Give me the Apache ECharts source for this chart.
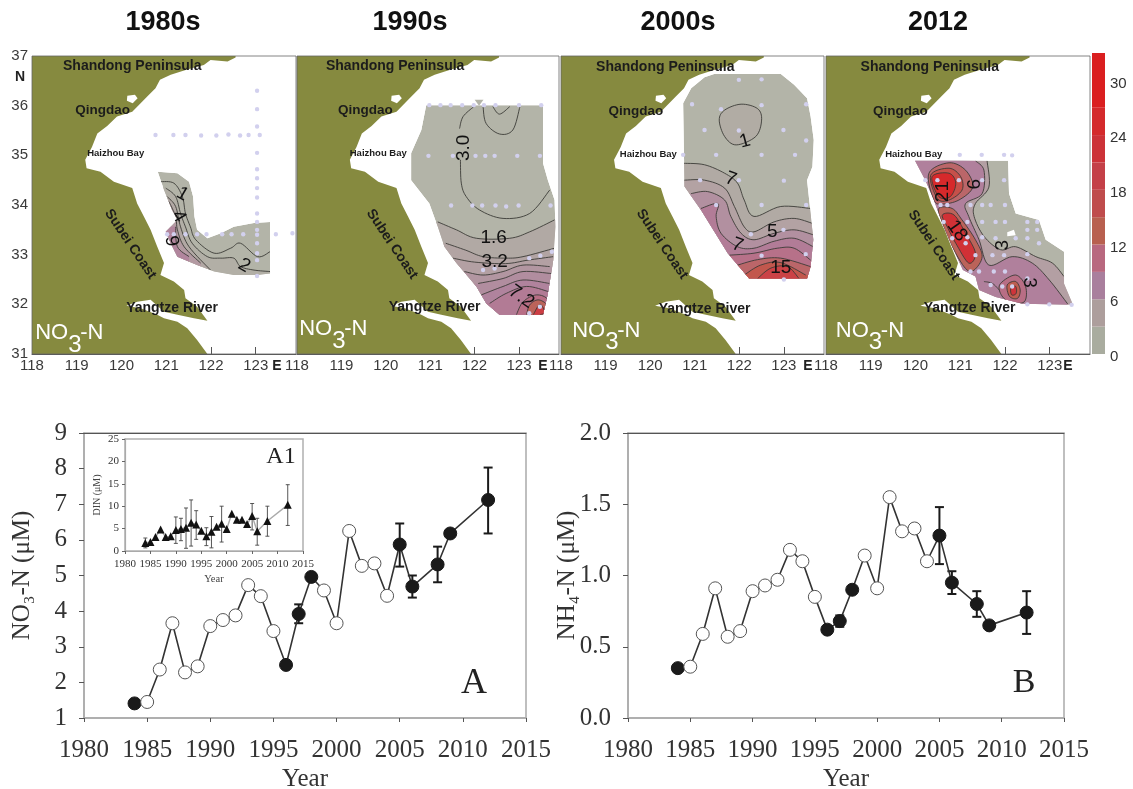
<!DOCTYPE html>
<html><head><meta charset="utf-8">
<style>html,body{margin:0;padding:0;background:#fff}#c{width:1133px;height:789px}</style>
<script src="https://cdn.jsdelivr.net/npm/echarts@6/dist/echarts.min.js"></script>
</head><body><div id="c"></div>
<script>
// ---------- time series ----------
const years = [1984,1985,1986,1987,1988,1989,1990,1991,1992,1993,1994,1995,1996,1997,1998,1999,2000,2001,2002,2003,2004,2005,2006,2008,2009,2012];
const filledYears = [1984,1996,1997,1998,2005,2006,2008,2009,2012];
const no3 = [1.41,1.45,2.36,3.66,2.28,2.45,3.58,3.75,3.88,4.73,4.42,3.44,2.49,3.92,4.96,4.58,3.66,6.25,5.27,5.34,4.43,5.87,4.69,5.31,6.18,7.12];
const no3Err = [[1997,3.66,4.19],[2005,5.25,6.46],[2006,4.38,5.0],[2008,4.81,5.81],[2012,6.18,8.03]];
const nh4 = [0.35,0.36,0.59,0.91,0.57,0.61,0.89,0.93,0.97,1.18,1.10,0.85,0.62,0.68,0.90,1.14,0.91,1.55,1.31,1.33,1.10,1.28,0.95,0.80,0.65,0.74];
const nh4Err = [[1997,0.64,0.72],[2005,1.08,1.48],[2006,0.87,1.03],[2008,0.71,0.89],[2012,0.59,0.89]];
const dinYears = [1984,1985,1986,1987,1988,1989,1990,1991,1992,1993,1994,1995,1996,1997,1998,1999,2000,2001,2002,2003,2004,2005,2006,2008,2012];
const din = [1.8,2.0,3.1,4.8,3.1,3.3,4.7,4.9,5.2,6.3,5.9,4.5,3.3,4.3,5.4,6.1,4.9,8.3,7.0,7.0,6.0,7.8,4.4,6.7,10.3];
const dinErr = [[1984,0.7,2.9],[1990,1.7,7.6],[1991,2.3,7.3],[1992,0.6,9.6],[1993,1.1,11.4],[1994,2.6,9.0],[1996,1.2,5.2],[1997,0.7,7.7],[1999,2.0,10.0],[2005,4.7,10.6],[2006,1.3,7.3],[2008,3.3,10.0],[2012,5.7,14.8]];

// ---------- colour bar ----------
const barEdges = [0,3,6,9,12,15,18,21,24,27,33];
const barColors = ['#a9ac9f','#ad9e9c','#a97f9d','#b8687f','#b8604f','#bf4c4c','#c44048','#cc3238','#d42a2c','#da1f20'];
const mapStops = [1,2,4.5,7.5,10.5,13.5,16.5,19.5,22.5,25.5,30];
const mapColors = ['#b3b4a8','#b1aca4','#b39fa3','#b0809c','#ba6a80','#bb6152','#c84c48','#cc4046','#d03238','#d62a2c','#da1f20'];

// ---------- geography (lon, lat) ----------
const coast = [[122.55,37],[122.55,36.97],[122.37,36.89],[121.99,36.92],[121.84,36.82],[121.47,36.73],[121.10,36.62],[120.86,36.52],[120.76,36.35],[120.57,36.18],[120.46,36.08],[120.24,35.88],[119.90,35.78],[119.68,35.59],[119.46,35.44],[119.34,35.17],[119.19,34.91],[119.22,34.74],[119.53,34.67],[119.83,34.47],[120.24,34.34],[120.35,34.03],[120.50,33.77],[120.65,33.50],[120.80,33.16],[120.95,32.83],[120.87,32.59],[121.17,32.46],[121.40,32.29],[121.43,32.12],[121.69,31.95],[121.92,31.67],[121.62,31.72],[121.25,31.79],[120.95,31.85],[120.65,32.09],[120.35,32.05],[120.11,31.97],[120.43,31.92],[120.80,31.79],[120.95,31.72],[121.25,31.65],[121.47,31.52],[121.69,31.28],[121.92,31],[118,31],[118,37]];
const qingdaoBay = [[120.13,36.2],[120.3,36.22],[120.36,36.15],[120.25,36.05],[120.12,36.1]];

// 1980s
const dom80 = [[120.81,34.67],[121.25,34.64],[121.51,34.47],[121.60,34.17],[121.63,33.77],[121.69,33.50],[121.92,33.33],[122.22,33.43],[122.51,33.56],[122.96,33.64],[123.32,33.66],[123.32,32.62],[123.04,32.59],[122.51,32.59],[122.07,32.66],[121.69,32.79],[121.25,32.96],[121.10,33.23],[120.99,33.46],[121.25,33.70],[121.13,33.90],[120.95,34.30]];
const c80a = [[120.86,34.47],[121.17,34.44],[121.36,34.17],[121.43,33.83],[121.54,33.56],[121.66,33.30],[122.07,33.03],[122.44,33.13],[122.66,33.23],[123.04,32.96],[123.32,33.06]];
const c80b = [[120.99,34.34],[121.21,34.17],[121.32,33.83],[121.43,33.56],[121.58,33.23],[121.92,32.96],[122.22,32.93],[122.51,32.93],[122.66,32.76],[122.96,32.69],[123.32,32.66]];
const c80c = [[121.02,34.17],[121.21,33.97],[121.32,33.56],[121.51,33.16],[121.99,32.69]];
const c80d = [[121.06,34.07],[121.21,33.77],[121.25,33.50],[121.40,33.16],[121.77,32.83]];
const c80e = [[121.21,33.56],[121.25,33.16],[121.51,32.96]];
const st80 = [[120.76,35.41],[121.16,35.41],[121.43,35.41],[121.78,35.40],[122.12,35.40],[122.39,35.42],[122.65,35.40],[122.84,35.41],[123.09,35.41],[123.03,36.30],[123.03,35.93],[123.03,35.58],[123.03,35.05],[123.03,34.72],[123.03,34.54],[123.03,34.34],[123.03,34.15],[123.03,33.83],[123.03,33.66],[123.03,33.50],[123.03,33.40],[123.03,33.23],[123.03,33.03],[123.03,32.89],[123.03,32.57],[121.02,33.41],[121.17,33.41],[121.43,33.41],[121.69,33.41],[121.90,33.41],[122.25,33.41],[122.46,33.41],[122.72,33.41],[123.45,33.41],[123.82,33.43]];

// 1990s
const dom90 = [[120.91,36.01],[123.54,36.01],[123.54,34.84],[123.65,34.50],[123.80,34.10],[123.82,33.56],[123.77,32.89],[123.65,32.22],[123.54,31.79],[122.56,31.79],[122.26,32.02],[122.04,32.36],[121.59,32.83],[121.32,33.16],[121.17,33.56],[120.98,34.03],[120.57,34.50],[120.57,35.04],[120.80,35.51]];
const c90a1 = [[121.98,35.98],[121.74,35.78],[121.66,35.54]];
const c90a2 = [[121.68,34.91],[121.70,34.44],[121.81,34.17],[122.11,33.90],[122.64,33.73],[123.24,33.83],[123.69,34.30]];
const c90b = [[122.19,35.98],[122.26,35.64],[122.56,35.43],[122.86,35.51],[123.02,35.98]];
const c90c = [[122.41,35.98],[122.56,35.83],[122.79,35.98]];
const c90d = [[121.17,33.66],[121.59,33.50],[122.04,33.33],[122.79,33.33],[123.24,33.46],[123.80,33.70]];
const c90e = [[121.35,33.23],[121.80,33.09],[122.19,32.96],[122.71,32.93],[123.09,32.96],[123.80,33.13]];
const c90f = [[121.51,32.93],[122.0,32.85],[122.7,32.82],[123.2,32.89],[123.77,32.96]];
const c90g = [[121.77,32.66],[122.19,32.59],[122.64,32.66],[123.09,32.79],[123.69,32.76]];
const c90h = [[122.08,32.42],[122.64,32.52],[123.09,32.66],[123.73,32.62]];
const c90i = [[122.15,32.19],[122.64,32.36],[123.09,32.49],[123.69,32.42]];
const c90j = [[122.34,32.02],[122.71,32.22],[123.17,32.36],[123.65,32.26]];
const c90k = [[122.94,31.79],[123.09,32.05],[123.39,32.19],[123.65,32.09],[123.62,31.79]];
const c90l = [[123.17,31.79],[123.24,31.99],[123.43,32.09],[123.62,31.99],[123.58,31.79]];
const c90m = [[123.32,31.79],[123.47,32.0],[123.58,31.84],[123.47,31.79]];
const st90 = [[120.98,36.01],[121.23,36.01],[121.46,36.01],[121.72,36.01],[121.98,36.01],[122.21,36.01],[122.47,36.01],[123.0,36.01],[123.5,36.01],[120.96,34.99],[121.51,34.99],[122.02,34.99],[122.24,34.99],[122.45,34.99],[122.96,34.99],[123.47,34.99],[121.47,33.99],[121.95,33.99],[122.17,33.99],[122.47,33.99],[122.71,33.97],[122.99,33.99],[123.71,33.99],[123.23,32.93],[123.48,32.98],[123.74,33.06],[122.19,32.69],[122.45,32.72],[123.23,31.82],[123.47,31.95]];

// 2000s
const dom00 = [[121.22,36.57],[121.44,36.64],[122.93,36.64],[123.23,36.42],[123.52,36.15],[123.60,35.78],[123.67,35.31],[123.64,34.77],[123.52,34.50],[123.60,33.83],[123.66,33.30],[123.60,32.76],[123.52,32.52],[122.22,32.52],[121.74,33.03],[121.14,33.90],[120.77,34.37],[120.74,36.05],[120.92,36.35]];
const c00a = [[121.93,35.21],[121.67,35.38],[121.55,35.71],[121.67,35.91],[122.04,36.03],[122.41,35.94],[122.50,35.71],[122.37,35.38]];
const c00b = [[120.76,34.84],[121.22,34.81],[121.67,34.64],[121.96,34.44],[122.11,34.10],[122.33,33.77],[122.93,33.97],[123.60,33.93]];
const c00c = [[120.76,34.50],[121.22,34.50],[121.67,34.34],[121.89,33.97],[122.11,33.56],[122.33,33.46],[122.78,33.66],[123.23,33.73],[123.64,33.63]];
const c00d = [[120.92,34.23],[121.29,34.27],[121.67,34.10],[121.81,33.77],[122.04,33.43],[122.33,33.30],[122.78,33.43],[123.23,33.50],[123.66,33.40]];
const c00e = [[121.14,33.93],[121.52,34.03],[121.48,33.77],[121.59,33.43],[121.96,33.16],[122.33,33.13],[122.78,33.27],[123.23,33.33],[123.66,33.16]];
const c00f = [[121.78,32.99],[122.33,33.03],[122.85,33.13],[123.23,33.13],[123.60,32.89]];
const c00g = [[121.89,32.77],[122.41,32.90],[122.93,32.93],[123.60,32.76]];
const c00h = [[122.11,32.59],[122.48,32.79],[122.93,32.84],[123.49,32.59]];
const c00i = [[122.41,32.52],[122.71,32.73],[123.08,32.76],[123.34,32.52]];
const st00 = [[121.99,36.52],[122.50,36.53],[120.94,36.03],[121.59,35.93],[122.50,36.01],[123.50,36.03],[121.22,35.51],[121.99,35.50],[122.99,35.51],[123.50,35.30],[120.74,35.01],[121.48,35.01],[122.50,35.01],[123.25,35.01],[121.12,34.50],[121.99,34.50],[123.0,34.49],[121.48,34.0],[122.50,34.0],[123.50,34.0],[122.26,33.41],[122.99,33.50],[122.50,32.98],[123.49,33.01],[123.0,32.50]];

// 2012
const dom12 = [[119.99,34.89],[122.07,34.89],[122.09,34.23],[122.24,33.83],[122.76,33.70],[122.91,33.30],[123.32,33.06],[123.32,32.42],[123.52,31.99],[122.39,32.01],[121.79,32.15],[121.42,32.29],[121.34,32.56],[121.06,32.69],[120.82,33.16],[120.60,33.63],[120.41,34.10],[120.22,34.50]];
const hole12 = [[122.05,33.45],[122.2,33.5],[122.24,33.39],[122.05,33.37]];
const c12a = [[121.60,34.89],[121.64,34.36],[121.34,34.03],[121.31,33.77],[121.53,33.37],[121.90,33.10],[122.24,33.16],[122.69,32.96],[123.06,32.83],[123.32,32.56]];
const c12b = [[121.34,34.89],[121.53,34.70],[121.49,34.23],[121.12,34.03],[121.19,33.77],[121.42,33.30],[121.64,32.79],[122.16,32.96],[122.61,32.83],[122.99,32.49],[123.40,32.01]];
const c12c = [[120.30,34.64],[120.75,34.85],[121.12,34.70],[121.28,34.36],[120.97,34.10],[120.60,34.02],[120.41,34.10]];
const c12d = [[120.34,34.60],[120.75,34.74],[121.01,34.57],[121.04,34.30],[120.75,34.10],[120.49,34.13]];
const c12e = [[120.37,34.57],[120.75,34.64],[120.90,34.44],[120.78,34.17],[120.52,34.17]];
const c12f = [[120.52,33.93],[120.82,33.93],[121.04,33.70],[121.34,33.30],[121.49,32.96],[121.31,32.69],[121.12,32.72],[120.82,33.16],[120.60,33.63]];
const c12g = [[120.60,33.80],[120.86,33.80],[121.12,33.43],[121.34,33.03],[121.19,32.83],[120.90,33.23],[120.71,33.56]];
const c12h = [[121.90,32.42],[122.24,32.59],[122.46,32.36],[122.43,32.05],[122.09,32.05],[121.90,32.22]];
const c12i = [[122.05,32.39],[122.24,32.46],[122.34,32.29],[122.28,32.12],[122.10,32.16]];
const c12j = [[122.13,32.32],[122.24,32.36],[122.25,32.22],[122.15,32.19]];
const c12k = [[121.53,32.46],[121.72,32.42],[121.87,32.29]];
const st12 = [[120.99,35.01],[121.48,35.01],[121.98,35.01],[122.16,35.0],[120.22,34.5],[120.49,34.5],[120.97,34.5],[121.49,34.5],[121.98,34.5],[120.56,34.0],[120.71,34.0],[121.23,34.0],[121.49,34.0],[121.68,34.0],[122.0,34.0],[120.63,33.66],[121.16,33.66],[121.49,33.66],[121.79,33.66],[122.0,33.66],[122.50,33.66],[122.72,33.66],[120.82,33.33],[121.16,33.35],[121.49,33.35],[121.79,33.33],[122.24,33.33],[122.50,33.33],[122.72,33.50],[122.50,33.50],[121.12,33.23],[121.34,32.99],[121.72,32.99],[121.98,32.99],[122.50,33.01],[122.76,33.23],[121.23,32.66],[121.42,32.66],[121.75,32.66],[122.0,32.66],[122.50,32.52],[122.16,32.36],[122.50,32.0],[122.99,32.0],[123.49,31.99],[121.68,32.39],[121.94,32.36]];

const mapPanels = [
 {title:'1980s', base:1, domain:dom80, extras:[], holes:[],
  lines:[c80a,c80b,c80c,c80d,c80e],
  bands:[[1.6,c80b,[[123.6,32.4],[120.5,32.4],[120.5,34.5]]],[2.8,c80c,[[122.0,32.3],[120.5,32.3],[120.5,34.3]]],[5,c80d,[[121.8,32.4],[120.5,32.4],[120.5,34.2]]],[7,c80e,[[121.5,32.6],[120.6,32.9],[120.6,33.6]]]],
  stations:st80,
  labels:[['1',121.36,34.22,-30],['4',121.28,33.77,-60],['6',121.17,33.28,100],['2',122.74,32.78,-30]],
  names:[[120.24,36.80],[119.58,35.90],[119.87,35.03],[120.20,33.21],[121.13,31.92]], no3:[118.07,31.42]},
 {title:'1990s', base:1, domain:dom90, extras:[[[122.0,36.12],[122.2,36.12],[122.1,36.0]]],holes:[],
  lines:[c90a1,c90a2,c90b,c90c,c90d,c90e,c90f,c90g,c90h,c90i,c90j,c90k,c90l,c90m],
  bands:[[2.5,c90d,[[124.2,33.7],[124.2,31.5],[120.5,31.5],[120.5,33.66]]],[3.5,c90e,[[124.2,33.13],[124.2,31.5],[120.5,31.5],[120.5,33.23]]],[4.4,c90f,[[124.2,32.96],[124.2,31.5],[121,31.5],[121,32.93]]],[5.4,c90g,[[124.2,32.76],[124.2,31.5],[121.3,31.5],[121.3,32.66]]],[6.2,c90h,[[124.2,32.62],[124.2,31.5],[121.7,31.5],[121.7,32.42]]],[7.2,c90i,[[124.2,32.42],[124.2,31.5],[121.9,31.5],[121.9,32.19]]],[8.2,c90j,[[124.2,32.26],[124.2,31.5],[122,31.5],[122,32.02]]],[10,c90k,[[123.62,31.6],[122.94,31.6]]],[13,c90l,[[123.58,31.6],[123.17,31.6]]],[20,c90m,[[123.47,31.6],[123.32,31.6]]]],
  stations:st90,
  labels:[['3.0',121.75,35.15,90],['1.6',122.43,33.34,0],['3.2',122.45,32.86,0],['7.2',123.05,32.15,-35]],
  names:[[120.21,36.80],[119.54,35.90],[119.83,35.03],[120.14,33.21],[121.10,31.94]], no3:[118.05,31.5]},
 {title:'2000s', base:1, domain:dom00, extras:[], holes:[],
  lines:[c00a,c00b,c00c,c00d,c00e,c00f,c00g,c00h,c00i],
  bands:[[2,c00a],[2.4,c00b,[[124,33.9],[124,32],[120,32],[120,34.84]]],[4,c00c,[[124,33.6],[124,32],[120,32],[120,34.5]]],[6,c00d,[[124,33.4],[124,32],[120,32],[120.5,34.23]]],[8,c00e,[[124,33.16],[124,32],[120,32],[120.5,33.93]]],[9.5,c00f,[[124,32.89],[124,32],[121,32],[121.4,32.99]]],[12,c00g,[[124,32.76],[124,32],[121,32],[121.5,32.77]]],[15,c00h,[[124,32.59],[124,32],[121.5,32],[122,32.6]]],[19,c00i,[[123.34,32.3],[122.41,32.3]]]],
  stations:st00,
  labels:[['1',122.13,35.28,15],['7',121.81,34.52,-20],['5',122.74,33.46,0],['7',121.96,33.19,-20],['15',122.93,32.74,0]],
  names:[[120.34,36.77],[119.68,35.88],[119.96,35.01],[120.27,33.21],[121.22,31.91]], no3:[118.25,31.47]},
 {title:'2012', base:1, domain:dom12, extras:[], holes:[hole12],
  lines:[c12a,c12b,c12c,c12d,c12e,c12f,c12g,c12h,c12i,c12j,c12k],
  bands:[[4.5,c12a,[[123.8,32.56],[123.8,31.8],[119.5,31.8],[119.5,34.95]]],[7.5,c12b,[[123.4,31.8],[119.5,31.8],[119.5,34.95]]],[12,c12c],[16,c12d],[26,c12e],[13,c12f],[23,c12g],[10,c12h],[14,c12i],[22,c12j]],
  stations:st12,
  labels:[['21',120.60,34.27,90],['6',121.33,34.42,90],['18',120.93,33.48,-55],['3',121.96,33.19,90],['3',122.54,32.44,-90]],
  names:[[120.32,36.77],[119.66,35.88],[119.96,35.01],[120.41,33.19],[121.21,31.92]], no3:[118.22,31.47]}
];
const placeNames = ['Shandong Peninsula','Qingdao','Haizhou Bay','Subei Coast','Yangtze River'];
const mapLefts = [32,297,561,826], mapRights = [296,559,824,1090];
const titleXs = [163,410,678,938];
const eXs = [277,543,808,1068];
const lonTicks = [118,119,120,121,122,123];

// ---------- helpers ----------
function hex(c){return [1,3,5].map(i=>parseInt(c.substr(i,2),16));}
function levelColor(v){
  if(v<=mapStops[0])return mapColors[0];
  for(let i=1;i<mapStops.length;i++){
    if(v<=mapStops[i]){
      const t=(v-mapStops[i-1])/(mapStops[i]-mapStops[i-1]),a=hex(mapColors[i-1]),b=hex(mapColors[i]);
      return 'rgb('+a.map((x,k)=>Math.round(x+(b[k]-x)*t)).join(',')+')';
    }
  }
  return mapColors[mapColors.length-1];
}
function spline(p,closed){
  const n=p.length,out=[],segs=closed?n:n-1;
  const at=i=>closed?p[(i+n)%n]:p[Math.max(0,Math.min(n-1,i))];
  for(let i=0;i<segs;i++){
    const a=at(i-1),b=at(i),c=at(i+1),d=at(i+2);
    for(let s=0;s<8;s++){
      const t=s/8,t2=t*t,t3=t2*t;
      out.push([0,1].map(k=>0.5*(2*b[k]+(c[k]-a[k])*t+(2*a[k]-5*b[k]+4*c[k]-d[k])*t2+(3*b[k]-a[k]-3*c[k]+d[k])*t3)));
    }
  }
  if(!closed)out.push(p[n-1]);
  return out;
}
const isLoop = (panel,l)=>panel.bands.some(b=>b[1]===l&&!b[2]);

function mapRender(panel){
  return function(params,api){
    const C=a=>a.map(q=>api.coord(q));
    const domainPts=C(panel.domain);
    const kids=[];
    kids.push({type:'polygon',shape:{points:C(coast)},style:{fill:'#868a3f'}});
    kids.push({type:'polygon',shape:{points:C(qingdaoBay)},style:{fill:'#fff'}});
    const inner=[{type:'polygon',shape:{points:domainPts},style:{fill:levelColor(panel.base)}}];
    panel.bands.forEach(b=>{
      const line=spline(b[1],!b[2]);
      const pts=b[2]?line.concat(b[2]):line;
      inner.push({type:'polygon',shape:{points:C(pts)},style:{fill:levelColor(b[0])}});
    });
    panel.lines.forEach(l=>{
      const closed=isLoop(panel,l);
      let pts=spline(l,closed); if(closed)pts=pts.concat([pts[0]]);
      inner.push({type:'polyline',shape:{points:C(pts)},style:{stroke:'#3c3c38',lineWidth:0.9,fill:null}});
    });
    kids.push({type:'group',children:inner,clipPath:{type:'polygon',shape:{points:domainPts}}});
    panel.extras.forEach(e=>kids.push({type:'polygon',shape:{points:C(e)},style:{fill:levelColor(1)}}));
    panel.holes.forEach(e=>kids.push({type:'polygon',shape:{points:C(e)},style:{fill:'#fff'}}));
    panel.stations.forEach(s=>{const q=api.coord(s);kids.push({type:'circle',shape:{cx:q[0],cy:q[1],r:2.2},style:{fill:'#d2d0ee'}});});
    const txt=(t,q,size,opt)=>kids.push(Object.assign({type:'text',x:q[0],y:q[1],rotation:(opt&&opt.rot||0)*Math.PI/180,
      style:{text:t,fontFamily:'"Liberation Sans",Arial,sans-serif',fontSize:size,fontWeight:opt&&opt.w||'normal',fill:opt&&opt.c||'#111',
      align:opt&&opt.a||'center',verticalAlign:'middle',textAlign:opt&&opt.a||'center',textVerticalAlign:'middle'}}));
    panel.labels.forEach(l=>txt(l[0],api.coord([l[1],l[2]]),19,{rot:l[3]}));
    const s=[14,13.5,9.5,14,14],rot=[0,0,0,-56,0];
    placeNames.forEach((n,i)=>txt(n,api.coord(panel.names[i]),s[i],{w:'bold',c:'#1c1c1c',rot:rot[i]}));
    const o=api.coord(panel.no3);
    txt('NO',[o[0],o[1]],22,{a:'left',c:'#fff'});
    txt('3',[o[0]+33,o[1]+12],24,{a:'left',c:'#fff'});
    txt('-N',[o[0]+45,o[1]],22,{a:'left',c:'#fff'});
    const tl=api.coord([118,37]),br=api.coord([123.9,31]);
    kids.push({type:'rect',shape:{x:tl[0],y:tl[1],width:br[0]-tl[0],height:br[1]-tl[1]},style:{fill:null,stroke:'#666',lineWidth:0.8}});
    return {type:'group',children:kids};
  };
}
function errRender(cap,width,color){
  return function(params,api){
    const x=api.value(0),lo=api.coord([x,api.value(1)]),hi=api.coord([x,api.value(2)]);
    const st={stroke:color,lineWidth:width,fill:null};
    return {type:'group',children:[
      {type:'line',shape:{x1:lo[0],y1:lo[1],x2:hi[0],y2:hi[1]},style:st},
      {type:'line',shape:{x1:lo[0]-cap,y1:lo[1],x2:lo[0]+cap,y2:lo[1]},style:st},
      {type:'line',shape:{x1:hi[0]-cap,y1:hi[1],x2:hi[0]+cap,y2:hi[1]},style:st}]};
  };
}
const serif='"Liberation Serif","Times New Roman",serif', sans='"Liberation Sans",Arial,sans-serif';
function markers(ys,vals){
  return ys.map((y,i)=>{const f=filledYears.includes(y);
    return {value:[y,vals[i]],itemStyle:{color:f?'#1a1a1a':'#fff',borderColor:f?'#1a1a1a':'#555',borderWidth:1}};});
}

// ---------- layout ----------
const grids=[],xAxes=[],yAxes=[],series=[];
mapPanels.forEach((p,i)=>{
  grids.push({outerBoundsMode:'none',left:mapLefts[i],top:56,width:mapRights[i]-mapLefts[i],height:298});
  xAxes.push({type:'value',gridIndex:i,min:118,max:123.9,interval:1,position:'bottom',splitLine:{show:false},
    axisLine:{lineStyle:{color:'#555',width:1}},axisTick:{inside:true,length:7,lineStyle:{color:'#555'},customValues:lonTicks},
    axisLabel:{customValues:lonTicks,margin:4,fontFamily:sans,fontSize:15,color:'#3a3a3a',formatter:v=>String(v),hideOverlap:false}});
  yAxes.push({type:'value',gridIndex:i,min:31,max:37,interval:1,show:i===0,splitLine:{show:false},axisTick:{show:false},
    axisLine:{show:false},axisLabel:{margin:4,fontFamily:sans,fontSize:15,color:'#3a3a3a'}});
  series.push({type:'custom',xAxisIndex:i,yAxisIndex:i,coordinateSystem:'cartesian2d',clip:false,silent:true,data:[[118,31]],renderItem:mapRender(p)});
});
// colour bar (index 4): bars only
grids.push({outerBoundsMode:'none',left:1092,top:53,width:13,height:301});
xAxes.push({type:'value',gridIndex:4,min:0,max:1,show:false});
yAxes.push({type:'value',gridIndex:4,min:0,max:33,show:false});
series.push({type:'custom',xAxisIndex:4,yAxisIndex:4,silent:true,clip:false,data:barColors.map((c,i)=>[0,barEdges[i],barEdges[i+1]]),
  renderItem:(params,api)=>{const a=api.coord([0,api.value(1)]),b=api.coord([1,api.value(2)]);
    return {type:'rect',shape:{x:a[0],y:b[1],width:b[0]-a[0],height:a[1]-b[1]},style:{fill:barColors[params.dataIndex]}};}});
// A (5), A1 (6), B (7)
function lineAxes(idx,box,yMin,yMax,yInt,yName,fmt,gap){
  grids.push(Object.assign({outerBoundsMode:'none',show:true,borderColor:'#aaa',borderWidth:1.5,backgroundColor:'#fff'},box));
  xAxes.push({type:'value',gridIndex:idx,min:1980,max:2015,interval:5,splitLine:{show:false},name:'Year',nameLocation:'middle',nameGap:49,nameMoveOverlap:false,
    nameTextStyle:{fontFamily:serif,fontSize:25,color:'#333'},
    axisLine:{lineStyle:{color:'#aaa',width:1.5}},axisTick:{length:4,lineStyle:{color:'#555'}},
    axisLabel:{margin:20,fontFamily:serif,fontSize:25,color:'#333',showMaxLabel:true,showMinLabel:true,hideOverlap:false,formatter:v=>String(v)}});
  yAxes.push({type:'value',gridIndex:idx,min:yMin,max:yMax,interval:yInt,splitLine:{show:false},name:yName,nameLocation:'middle',nameGap:gap,nameRotate:90,nameMoveOverlap:false,
    nameTextStyle:{fontFamily:serif,fontSize:25,color:'#333'},
    axisLine:{lineStyle:{color:'#aaa',width:1.5}},axisTick:{length:5,lineStyle:{color:'#555'}},
    axisLabel:{margin:17,fontFamily:serif,fontSize:25,color:'#333',formatter:fmt}});
}
lineAxes(5,{left:84,top:433,width:442,height:285},1,9,1,'NO\u2083-N (\u03bcM)',v=>String(v),49);
grids.push({outerBoundsMode:'none',show:true,borderColor:'#b0b0b0',borderWidth:1.5,backgroundColor:'#fff',left:125,top:439,width:178,height:112});
xAxes.push({type:'value',gridIndex:6,min:1980,max:2015,interval:5,splitLine:{show:false},name:'Year',nameLocation:'middle',nameGap:23,
  nameTextStyle:{fontFamily:serif,fontSize:10.5,color:'#444'},axisLine:{lineStyle:{color:'#aaa',width:1.2}},axisTick:{length:3,lineStyle:{color:'#666'}},
  axisLabel:{margin:8,fontFamily:serif,fontSize:11,color:'#333',hideOverlap:false,formatter:v=>String(v)}});
yAxes.push({type:'value',gridIndex:6,min:0,max:25,interval:5,splitLine:{show:false},name:'DIN (\u03bcM)',nameLocation:'middle',nameGap:23,nameRotate:90,
  nameTextStyle:{fontFamily:serif,fontSize:10,color:'#444'},axisLine:{lineStyle:{color:'#aaa',width:1.2}},axisTick:{length:3,lineStyle:{color:'#666'}},
  axisLabel:{margin:6,fontFamily:serif,fontSize:11,color:'#333'}});
lineAxes(7,{left:628,top:433,width:436,height:285},0,2,0.5,'NH\u2084-N (\u03bcM)',v=>v.toFixed(1),48);
// dark top edges of A and B
[5,7].forEach(g=>xAxes.push({type:'value',gridIndex:g,min:1980,max:2015,position:'top',axisLabel:{show:false},axisTick:{show:false},splitLine:{show:false},axisLine:{show:true,lineStyle:{color:'#555',width:1}}}));
// colour bar labels (index 8 grid, shifted to sit where the reference prints them)
grids.push({outerBoundsMode:'none',left:1092,top:56,width:13,height:301});
xAxes.push({type:'value',gridIndex:8,min:0,max:1,show:false});
yAxes.push({type:'value',gridIndex:8,min:0,max:33,position:'right',interval:6,splitLine:{show:false},axisLine:{show:false},axisTick:{show:false},
  axisLabel:{margin:5,fontFamily:sans,fontSize:15,color:'#333',showMaxLabel:false}});

const lineSym=(name,xi,ys,vals)=>({type:'line',name,xAxisIndex:xi,yAxisIndex:xi,silent:true,symbol:'circle',symbolSize:13,z:4,
  lineStyle:{color:'#333',width:1.6},data:markers(ys,vals)});
series.push({type:'custom',xAxisIndex:5,yAxisIndex:5,silent:true,z:3,clip:false,data:no3Err,renderItem:errRender(4.5,2,'#1a1a1a')});
series.push(lineSym('NO3-N',5,years,no3));
series.push({type:'custom',xAxisIndex:6,yAxisIndex:6,silent:true,z:3,clip:false,data:dinErr,renderItem:errRender(2,0.9,'#444')});
series.push({type:'line',name:'DIN',xAxisIndex:6,yAxisIndex:6,silent:true,symbol:'triangle',symbolSize:8,z:4,
  lineStyle:{color:'#aaa',width:1.4},itemStyle:{color:'#111'},data:dinYears.map((y,i)=>[y,din[i]])});
series.push({type:'custom',xAxisIndex:7,yAxisIndex:7,silent:true,z:3,clip:false,data:nh4Err,renderItem:errRender(4.5,2,'#1a1a1a')});
series.push(lineSym('NH4-N',7,years,nh4));

const gText=(t,x,y,size,fam,weight,color)=>({type:'text',x,y,z:20,style:{text:t,fontFamily:fam,fontSize:size,fontWeight:weight||'normal',fill:color||'#222',align:'center',verticalAlign:'middle',textAlign:'center',textVerticalAlign:'middle'}});
const graphic=[];
mapPanels.forEach((p,i)=>{graphic.push(gText(p.title,titleXs[i],23,27,sans,'bold','#111'));graphic.push(gText('E',eXs[i],366,14,sans,'bold','#222'));});
graphic.push(gText('N',20,77,14,sans,'bold','#222'));
graphic.push(gText('A',474,684,36,serif));
graphic.push(gText('B',1024,683,34,serif));
graphic.push(gText('A1',281,457,24,serif));

const chart=echarts.init(document.getElementById('c'),null,{renderer:'canvas'});
chart.setOption({animation:false,backgroundColor:'#fff',grid:grids,xAxis:xAxes,yAxis:yAxes,series,graphic});
</script></body></html>
